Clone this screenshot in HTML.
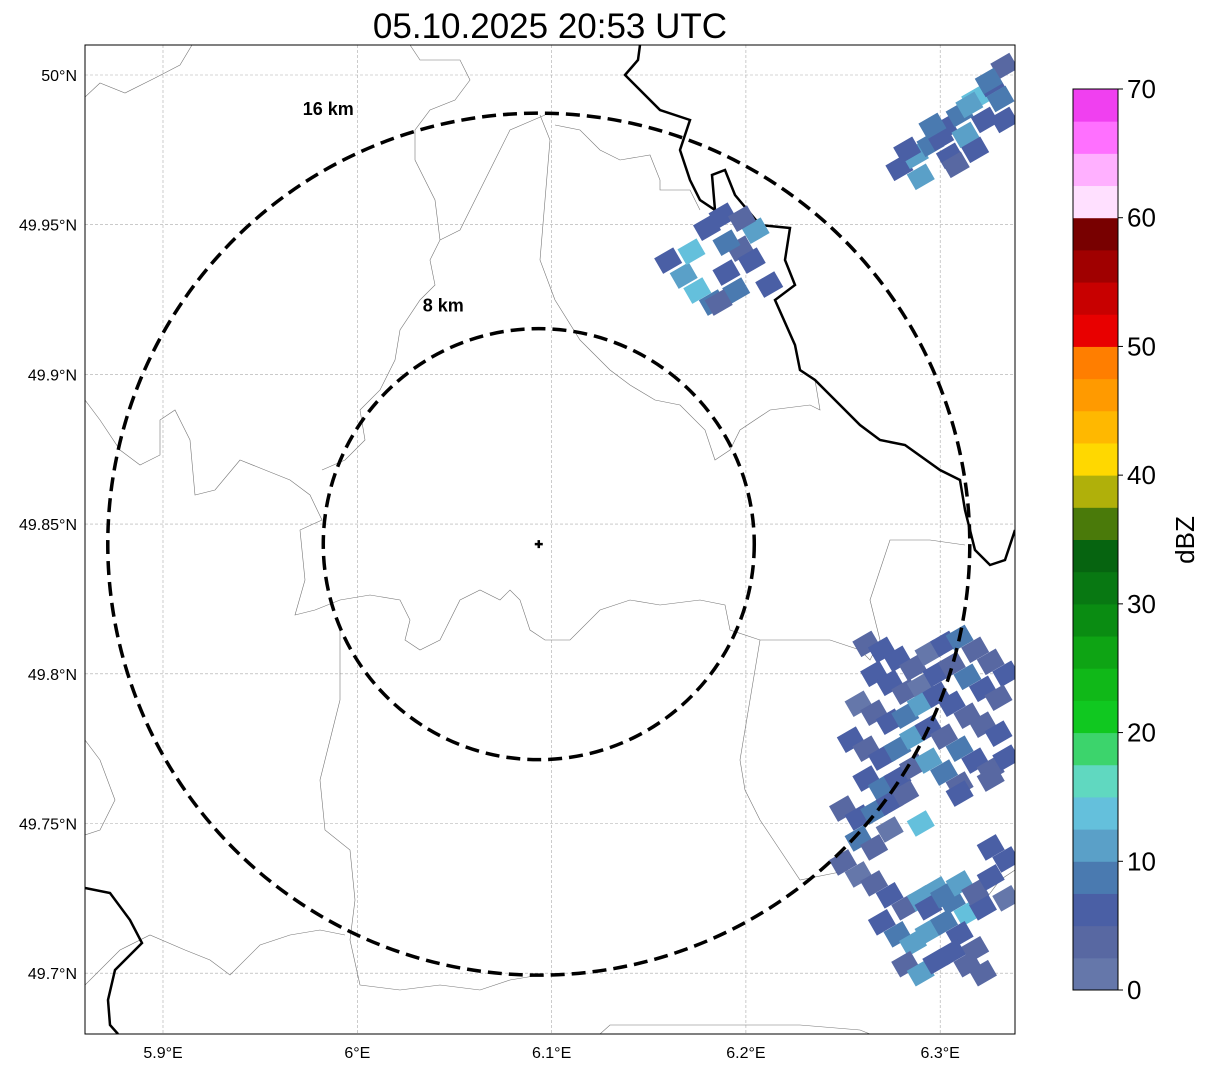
<!DOCTYPE html>
<html><head><meta charset="utf-8">
<style>
html,body{margin:0;padding:0;background:#fff;}
svg{display:block;font-family:"Liberation Sans",sans-serif;}
</style></head>
<body>
<svg id="chart" width="1207" height="1069" viewBox="0 0 1207 1069">
<defs><clipPath id="mapclip"><rect x="85" y="45" width="930" height="989"/></clipPath></defs>
<text x="550" y="38" text-anchor="middle" font-size="35" fill="#000">05.10.2025 20:53 UTC</text>
<g id="grid"></g>
<g id="borders" clip-path="url(#mapclip)"></g>
<g id="echoes" clip-path="url(#mapclip)"></g>
<g id="rings"></g>
<rect x="85" y="45" width="930" height="989" fill="none" stroke="#000" stroke-width="1"/>
<g id="axes"></g>
<g id="cbar"></g>
</svg>
<script>
const lonTicks=[5.9,6.0,6.1,6.2,6.3];
const lonLabels=["5.9°E","6°E","6.1°E","6.2°E","6.3°E"];
const latTicks=[50.0,49.95,49.9,49.85,49.8,49.75,49.7];
const latLabels=["50°N","49.95°N","49.9°N","49.85°N","49.8°N","49.75°N","49.7°N"];
const radarLon=6.0934, radarLat=49.8433;
const ringKm=[8,16];
const cbarLevels=[0,10,20,30,40,50,60,70];
const cbarColors=["#6577aa","#5868a2","#4a5fa5","#4a7ab0","#5aa0c8","#64c0dc","#60d8c0","#3cd46c","#10c820","#10b818","#0ea414","#0a8c12","#087812","#066410","#4a7a0a","#b0b00a","#ffd800","#ffb800","#ff9a00","#ff7e00","#e80000","#c80000","#a00000","#780000","#ffe0ff","#ffb0ff","#ff70ff","#f040f0"];
// echo cells: lon, lat, dBZ
const echoLon=[6.279,6.287,6.295,6.302,6.310,6.318,6.326,6.333,6.290,6.305,6.313,6.323,6.331,6.300,6.315,6.325,6.333,6.318,6.308,6.296,6.283,
6.160,6.168,6.175,6.183,6.190,6.197,6.205,6.212,6.180,6.188,6.195,6.203,6.172,6.190,6.198,6.186,
6.262,6.270,6.278,6.286,6.294,6.302,6.310,6.318,6.326,6.334,6.266,6.274,6.282,6.290,6.298,6.306,6.314,6.322,6.330,6.258,6.266,6.274,6.282,6.290,6.298,6.306,6.314,6.322,6.330,6.254,6.262,6.270,6.278,6.286,6.294,6.302,6.310,6.318,6.326,6.334,6.262,6.270,6.278,6.286,6.294,6.302,6.310,6.250,6.258,6.266,6.274,6.282,6.258,6.266,6.274,6.290,6.310,6.326,
6.250,6.258,6.266,6.274,6.282,6.290,6.298,6.306,6.314,6.322,6.270,6.278,6.286,6.294,6.302,6.310,6.318,6.282,6.290,6.298,6.306,6.314,6.322,6.294,6.302,6.310,6.318,6.326,6.334,6.334,6.326];
const echoLat=[49.969,49.973,49.977,49.982,49.987,49.992,49.997,50.003,49.966,49.973,49.980,49.985,49.992,49.979,49.990,49.998,49.985,49.975,49.970,49.983,49.975,
49.938,49.933,49.928,49.924,49.934,49.942,49.948,49.930,49.949,49.953,49.928,49.938,49.941,49.944,49.952,49.924,
49.810,49.808,49.805,49.802,49.807,49.810,49.812,49.808,49.804,49.800,49.800,49.797,49.794,49.796,49.800,49.803,49.799,49.795,49.792,49.790,49.787,49.784,49.786,49.790,49.793,49.790,49.786,49.783,49.780,49.778,49.775,49.772,49.775,49.779,49.782,49.779,49.775,49.771,49.768,49.772,49.765,49.762,49.765,49.769,49.771,49.767,49.763,49.755,49.752,49.754,49.757,49.760,49.745,49.742,49.748,49.750,49.760,49.765,
49.737,49.733,49.730,49.726,49.722,49.725,49.728,49.724,49.720,49.722,49.717,49.713,49.710,49.714,49.717,49.713,49.708,49.703,49.700,49.704,49.707,49.703,49.700,49.722,49.726,49.730,49.727,49.732,49.738,49.725,49.742];
const echoDbz=[7,12,9,5,8,13,6,4,10,7,12,5,8,6,11,9,7,5,4,8,6,
5,11,13,8,6,4,11,7,5,6,9,5,14,8,3,4,
3,5,7,4,2,6,9,3,4,6,5,7,3,2,6,4,8,5,3,2,4,6,8,10,5,7,3,4,6,5,3,7,9,11,6,4,8,5,3,7,5,9,6,4,12,8,3,4,6,9,5,3,8,4,2,13,5,3,
3,2,4,6,3,10,12,9,13,6,5,8,10,11,9,5,3,4,10,5,7,3,4,6,9,12,3,5,7,2,5];

const NS="http://www.w3.org/2000/svg";
const X0=85,X1=1015,Y0=45,Y1=1034;
function xOf(lon){return 163+(lon-5.9)*1943;}
function yOf(lat){return 75+(50-lat)*2994;}
function mk(tag,attrs,parent){const e=document.createElementNS(NS,tag);for(const k in attrs)e.setAttribute(k,attrs[k]);parent.appendChild(e);return e;}
function colorFor(d){let i=Math.floor(d/2.5);if(i<0)i=0;if(i>=cbarColors.length)i=cbarColors.length-1;return cbarColors[i];}

const grid=document.getElementById('grid'),axes=document.getElementById('axes');
lonTicks.forEach((v,i)=>{const x=xOf(v);
 const l=mk('line',{x1:x,x2:x,y1:Y0,y2:Y1,stroke:'#aaa','stroke-width':0.6,'stroke-dasharray':'3,2'},grid);
 
 
 const t=mk('text',{x:x,y:1058,'text-anchor':'middle','font-size':16},axes);t.textContent=lonLabels[i];
 
 });
latTicks.forEach((v,i)=>{const y=yOf(v);
 const l=mk('line',{x1:X0,x2:X1,y1:y,y2:y,stroke:'#aaa','stroke-width':0.6,'stroke-dasharray':'3,2'},grid);
 
 
 const t=mk('text',{x:77,y:y+6,'text-anchor':'end','font-size':16},axes);t.textContent=latLabels[i];
 
 });

const bd=document.getElementById('borders');
const thin=[
"85,97 100,83 125,93 155,78 180,65 192,45",
"85,400 100,420 120,450 140,465 160,455 160,420 175,410 190,440 195,495 215,490 240,460 265,470 290,480 310,495 322,520 300,530 305,580 295,615 315,610 340,600 370,595 400,600 410,620 405,640 420,650 440,640 460,600 480,590 500,600 510,590 520,600 530,630 545,640 570,640 600,610 630,600 660,605 700,600 725,605 730,630 760,640 790,640 830,640 860,650 870,660 880,640 870,600 880,570 890,540 930,540 965,545",
"410,45 420,60 460,60 470,80 455,100 430,110 415,130 415,160 435,200 440,240 430,260 435,285 420,300 400,330 395,360 380,390 360,410 365,440 345,460 322,470",
"540,115 550,140 545,200 540,260 555,300 580,340 610,370 630,385 655,400 680,405 705,430 715,460 730,450 740,430 770,410 810,405 820,410 815,380",
"545,115 510,130 495,160 480,190 460,230 440,240",
"555,125 580,130 600,150 620,160 650,155 660,180 660,190 690,190 700,210",
"340,630 340,700 330,740 320,780 325,830 350,850 355,900 350,940 360,985 400,990 440,985 480,990 510,980 540,975",
"85,985 120,950 150,935 185,950 210,960 230,975 260,945 290,935 320,930 345,935",
"600,1034 610,1025 700,1025 800,1025 860,1030 870,1034",
"760,640 750,700 740,760 745,790 760,820 780,850 800,880 850,870",
"985,900 1000,880 1015,870",
"85,740 100,760 115,800 100,830 85,835"];
thin.forEach(p=>{const e=mk('polyline',{points:p,fill:'none',stroke:'#777','stroke-width':0.6},bd);
 
 });
const thick=["640,45 638,60 625,75 640,90 660,110 690,120 680,150 690,180 700,200 715,210 712,175 725,170 735,195 760,225 790,228 785,260 795,285 775,300 795,345 800,370 815,380 830,395 845,410 860,425 880,440 905,445 940,470 960,480 965,510 970,530 975,550 990,565 1005,560 1015,530",
"85,888 110,893 130,920 142,943 115,970 108,1000 110,1025 118,1034"];
thick.forEach(p=>{const e=mk('polyline',{points:p,fill:'none',stroke:'#000','stroke-width':2.5},bd);
 
 });

const eg=document.getElementById('echoes');
for(let i=0;i<echoLon.length;i++){
 const x=xOf(echoLon[i]),y=yOf(echoLat[i]);
 const r=mk('rect',{x:x-11,y:y-9,width:22,height:18,fill:colorFor(echoDbz[i]),transform:`rotate(-30 ${x} ${y})`},eg);
 
 
}

const rg=document.getElementById('rings');
const cx=xOf(radarLon),cy=yOf(radarLat);
const pxPerKm=431/16;
ringKm.forEach(k=>{const c=mk('circle',{cx:cx,cy:cy,r:k*pxPerKm,fill:'none',stroke:'#000','stroke-width':3.5,'stroke-dasharray':'14,7'},rg);
 
 
 const t=mk('text',{x:cx-(k==16?236:116),y:cy-k*pxPerKm-(k==16?-2:17),'font-size':18,'font-weight':'bold'},rg);t.textContent=k+' km';
 
 });
const m=mk('path',{d:`M${cx-4},${cy}H${cx+4}M${cx},${cy-4}V${cy+4}`,stroke:'#000','stroke-width':2.5},rg);



const cb=document.getElementById('cbar');
const CX=1073,CW=45,CT=89,CB=990;
function cy2(v){return CB-(v/70)*(CB-CT);}
cbarColors.forEach((c,i)=>{const y1=cy2(i*2.5),y2=cy2((i+1)*2.5);
 const r=mk('rect',{x:CX,y:y2,width:CW,height:y1-y2+0.5,fill:c},cb);
 
 });
mk('rect',{x:CX,y:CT,width:CW,height:CB-CT,fill:'none',stroke:'#000','stroke-width':1},cb);
cbarLevels.forEach(v=>{const y=cy2(v);
 mk('line',{x1:CX+CW,x2:CX+CW+5,y1:y,y2:y,stroke:'#000'},cb);
 const t=mk('text',{x:1127,y:y+9,'font-size':26},cb);t.textContent=v;
 
 });
const lab=mk('text',{x:1194,y:540,'font-size':26,'text-anchor':'middle',transform:'rotate(-90 1194 540)'},cb);
lab.textContent='dBZ';


</script>
</body></html>
